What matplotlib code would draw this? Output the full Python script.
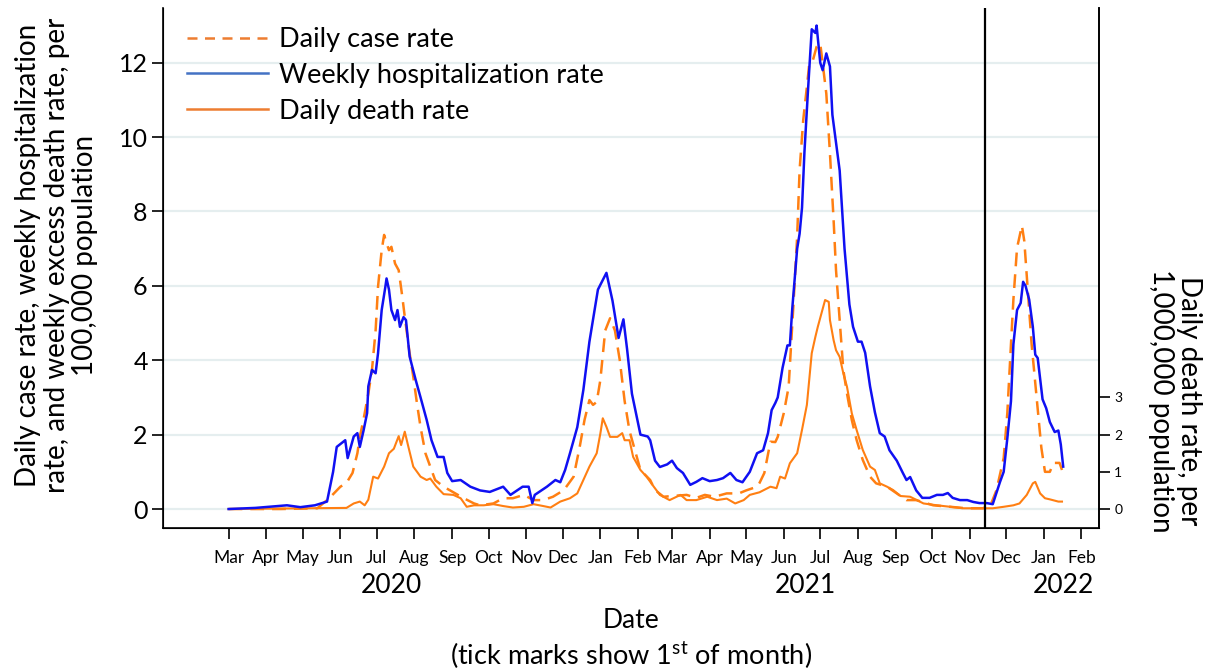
import pandas as pd
import matplotlib.pyplot as plt
from matplotlib.lines import Line2D

plt.rcParams["font.family"] = ["Lato", "DejaVu Sans"]
plt.rcParams["mathtext.fontset"] = "custom"
plt.rcParams["mathtext.rm"] = "Lato"

START = pd.Timestamp("2020-03-01")

# days since 1 March 2020
HOSP_DAY = [0, 22, 48, 59, 71, 81, 86, 89, 96, 98, 103, 106, 108, 111, 114, 115,
            118, 121, 123, 126, 129, 130, 132, 134, 137, 139, 141, 144, 146, 149,
            154, 158, 163, 167, 172, 177, 180, 184, 191, 199, 207, 215, 226, 232,
            242, 247, 250, 252, 262, 269, 273, 277, 281, 287, 292, 297, 304, 311,
            316, 321, 325, 328, 332, 339, 345, 347, 351, 355, 361, 365, 369, 374,
            380, 385, 390, 396, 402, 407, 413, 418, 423, 429, 435, 440, 444, 447,
            450, 452, 456, 460, 462, 464, 468, 470, 472, 474, 477, 480, 483, 484,
            487, 489, 492, 495, 497, 503, 507, 511, 514, 518, 521, 524, 528, 532,
            536, 540, 544, 550, 555, 558, 561, 566, 571, 577, 583, 588, 592, 596,
            602, 608, 613, 618, 624, 629, 632, 635, 638, 641, 644, 646, 649, 652,
            654, 656, 659, 662, 664, 666, 670, 673, 676, 680, 683, 685, 687]
HOSP_RATE = [0.0, 0.03, 0.1, 0.05, 0.1, 0.2, 1.0, 1.67, 1.85, 1.37, 1.95, 2.04, 1.67,
             2.1, 2.58, 3.3, 3.74, 3.65, 4.19, 5.35, 5.97, 6.2, 5.9, 5.35, 5.08, 5.35,
             4.9, 5.16, 5.08, 4.1, 3.47, 3.0, 2.4, 1.85, 1.4, 1.4, 0.97, 0.75, 0.78,
             0.6, 0.5, 0.46, 0.6, 0.38, 0.6, 0.6, 0.16, 0.38, 0.6, 0.78, 0.72, 1.05,
             1.5, 2.2, 3.2, 4.5, 5.9, 6.35, 5.6, 4.6, 5.1, 4.3, 3.1, 2.0, 1.95, 1.85,
             1.3, 1.13, 1.2, 1.3, 1.1, 0.97, 0.65, 0.73, 0.83, 0.75, 0.78, 0.83, 0.97,
             0.78, 0.72, 1.0, 1.5, 1.58, 2.04, 2.66, 2.85, 3.0, 3.8, 4.4, 4.4, 5.4,
             7.0, 7.4, 8.1, 9.6, 11.3, 12.9, 12.8, 13.0, 12.0, 11.8, 12.25, 11.9,
             10.6, 9.1, 7.0, 5.5, 4.9, 4.5, 4.5, 4.2, 3.3, 2.6, 2.04, 1.95, 1.58, 1.3,
             0.97, 0.78, 0.86, 0.5, 0.3, 0.3, 0.38, 0.38, 0.43, 0.3, 0.24, 0.24, 0.19,
             0.16, 0.16, 0.13, 0.43, 0.73, 1.0, 1.9, 2.9, 4.43, 5.35, 5.54, 6.11, 6.0,
             5.63, 4.9, 4.15, 4.06, 2.95, 2.71, 2.34, 2.07, 2.11, 1.74, 1.14]

CASE_DAY = [0, 43, 73, 81, 84, 92, 97, 102, 106, 108, 111, 115, 118, 121, 123, 126,
            128, 130, 132, 134, 137, 140, 143, 145, 149, 152, 155, 158, 162, 166,
            170, 177, 185, 193, 202, 207, 218, 226, 234, 243, 251, 259, 267, 276,
            284, 289, 293, 297, 300, 303, 306, 310, 314, 318, 322, 326, 330, 339,
            347, 351, 358, 377, 385, 392, 400, 410, 420, 426, 435, 437, 441, 446,
            450, 452, 457, 461, 465, 468, 470, 473, 476, 478, 481, 484, 487, 489,
            492, 495, 498, 500, 503, 506, 509, 513, 517, 522, 528, 533, 542, 550,
            558, 566, 580, 594, 607, 621, 628, 632, 638, 641, 644, 646, 649, 653,
            655, 658, 661, 665, 669, 672, 676, 679, 684, 686]
CASE_RATE = [0.0, 0.0, 0.02, 0.24, 0.33, 0.6, 0.7, 0.97, 1.5, 1.94, 2.4, 3.1, 3.74,
             4.8, 5.98, 6.96, 7.37, 7.15, 6.96, 7.05, 6.6, 6.42, 5.7, 5.17, 4.19,
             3.56, 2.85, 2.2, 1.5, 1.14, 0.78, 0.6, 0.45, 0.3, 0.15, 0.1, 0.15, 0.29,
             0.29, 0.38, 0.24, 0.24, 0.33, 0.51, 0.87, 1.67, 2.4, 2.93, 2.8, 2.88,
             3.47, 4.8, 5.13, 4.8, 4.0, 2.9, 2.1, 1.05, 0.78, 0.51, 0.33, 0.38, 0.3,
             0.38, 0.33, 0.42, 0.42, 0.5, 0.6, 0.7, 0.97, 1.81, 1.8, 1.94, 2.58, 3.29,
             5.53, 7.32, 9.11, 10.46, 11.35, 11.98, 12.07, 12.43, 12.52, 11.98, 11.17,
             9.56, 7.77, 6.42, 5.08, 3.74, 3.11, 2.39, 1.85, 1.32, 0.87, 0.69, 0.6,
             0.42, 0.24, 0.24, 0.1, 0.06, 0.02, 0.02, 0.17, 0.5, 1.37, 2.58, 4.43,
             5.63, 7.02, 7.62, 7.2, 5.81, 4.43, 3.04, 1.65, 1.0, 1.0, 1.24, 1.24, 1.05]

DEATH_DAY = [0, 97, 103, 108, 112, 115, 119, 123, 128, 132, 136, 140, 142, 145, 148,
             152, 158, 163, 166, 171, 177, 185, 191, 196, 202, 210, 218, 226, 234,
             243, 251, 259, 265, 273, 281, 287, 292, 297, 303, 306, 308, 311, 314,
             320, 324, 326, 330, 333, 339, 344, 350, 355, 363, 372, 377, 385, 394,
             402, 410, 417, 424, 429, 437, 446, 451, 454, 458, 462, 468, 472, 476,
             480, 483, 485, 488, 491, 494, 495, 498, 500, 503, 506, 509, 513, 517,
             522, 528, 532, 536, 542, 547, 553, 561, 572, 583, 594, 605, 618, 629,
             638, 646, 651, 657, 662, 664, 668, 672, 676, 683, 686]
DEATH_RATE = [0.0, 0.03, 0.15, 0.2, 0.1, 0.25, 0.87, 0.82, 1.14, 1.5, 1.62, 1.96,
              1.72, 2.08, 1.67, 1.14, 0.87, 0.78, 0.82, 0.6, 0.4, 0.38, 0.29, 0.06,
              0.1, 0.1, 0.13, 0.08, 0.04, 0.06, 0.13, 0.08, 0.04, 0.2, 0.29, 0.42,
              0.78, 1.14, 1.5, 2.03, 2.44, 2.21, 1.94, 1.94, 2.04, 1.85, 1.85, 1.4,
              1.05, 0.87, 0.6, 0.38, 0.24, 0.38, 0.24, 0.24, 0.33, 0.24, 0.28, 0.15,
              0.24, 0.38, 0.45, 0.6, 0.56, 0.87, 0.82, 1.23, 1.5, 2.13, 2.8, 4.19,
              4.63, 4.9, 5.26, 5.62, 5.57, 5.08, 4.54, 4.27, 4.09, 3.65, 3.29, 2.57,
              2.12, 1.59, 1.14, 1.05, 0.69, 0.6, 0.51, 0.35, 0.33, 0.15, 0.1, 0.06,
              0.02, 0.02, 0.02, 0.06, 0.1, 0.15, 0.38, 0.69, 0.73, 0.42, 0.29, 0.26,
              0.2, 0.2]

MONTHS = pd.date_range("2020-03-01", "2022-02-01", freq="MS")
YEARS = ["2020", "2021", "2022"]
CUTOFF = pd.Timestamp("2021-11-14")

BLUE = "#1010F2"
ORANGE = "#FF7F12"


def to_dates(days):
    return START + pd.to_timedelta(days, unit="D")


fig = plt.figure(figsize=(12.12, 6.72), dpi=100)
ax = fig.add_axes([0.1345, 0.2143, 0.7723, 0.7737])

for y in range(0, 13, 2):
    ax.axhline(y, color="#E5EEEF", lw=1.6, zorder=0)

ax.plot(to_dates(CASE_DAY), CASE_RATE, color=ORANGE, lw=1.8,
        linestyle=(0, (5.5, 3.2)), zorder=3)
ax.plot(to_dates(HOSP_DAY), HOSP_RATE, color=BLUE, lw=1.8, zorder=4)
ax.plot(to_dates(DEATH_DAY), DEATH_RATE, color=ORANGE, lw=1.5, zorder=3)
ax.axvline(CUTOFF, color="black", lw=1.6, zorder=5)

ax.set_xlim(pd.Timestamp("2020-01-07"), pd.Timestamp("2022-02-15 12:00"))
ax.set_ylim(-0.51, 13.47)
ax.set_yticks(range(0, 13, 2))
ax.set_xticks(MONTHS)
ax.set_xticklabels([d.strftime("%b") for d in MONTHS])
ax.tick_params(axis="x", length=8, width=1.2, pad=8, labelsize=12.5)
ax.tick_params(axis="y", length=8, width=1.2, pad=3, labelsize=18)
ax.spines["top"].set_visible(False)
for s in ["left", "bottom", "right"]:
    ax.spines[s].set_linewidth(1.2)

ax2 = ax.twinx()
ax2.set_ylim(-0.51, 13.47)
ax2.set_yticks([0, 1, 2, 3])
ax2.tick_params(axis="y", length=8, width=1.2, pad=3, labelsize=10)
ax2.spines["top"].set_visible(False)
ax2.spines["right"].set_linewidth(1.2)

year_pos = pd.to_datetime(["2020-07-13", "2021-06-19", "2022-01-17"])
for label, pos in zip(YEARS, year_pos):
    ax.text(pos, -0.11, label, transform=ax.get_xaxis_transform(),
            ha="center", va="center", fontsize=19)

fig.text(0.5206, 0.077, "Date", ha="center", va="center", fontsize=19)
fig.text(0.5206, 0.025, r"(tick marks show 1$^{\mathrm{st}}$ of month)",
         ha="center", va="center", fontsize=19.5)

fig.text(0.047, 0.62,
         "Daily case rate, weekly hospitalization\n"
         "rate, and weekly excess death rate, per\n100,000 population",
         rotation=90, ha="center", va="center", fontsize=20, linespacing=1.12)
fig.text(0.9695, 0.403, "Daily death rate, per\n1,000,000 population",
         rotation=270, ha="center", va="center", fontsize=20, linespacing=1.1)

handles = [
    Line2D([], [], color="#ED7D31", lw=1.8, linestyle=(0, (4, 3))),
    Line2D([], [], color="#4472C4", lw=1.8),
    Line2D([], [], color="#ED7D31", lw=1.8),
]
ax.legend(handles, ["Daily case rate", "Weekly hospitalization rate", "Daily death rate"],
          loc="upper left", bbox_to_anchor=(0.005, 1.0), frameon=False, fontsize=19.5,
          handlelength=3.0, handletextpad=0.4, labelspacing=0.4, borderaxespad=0.3)

fig.savefig("out.png", dpi=100)
